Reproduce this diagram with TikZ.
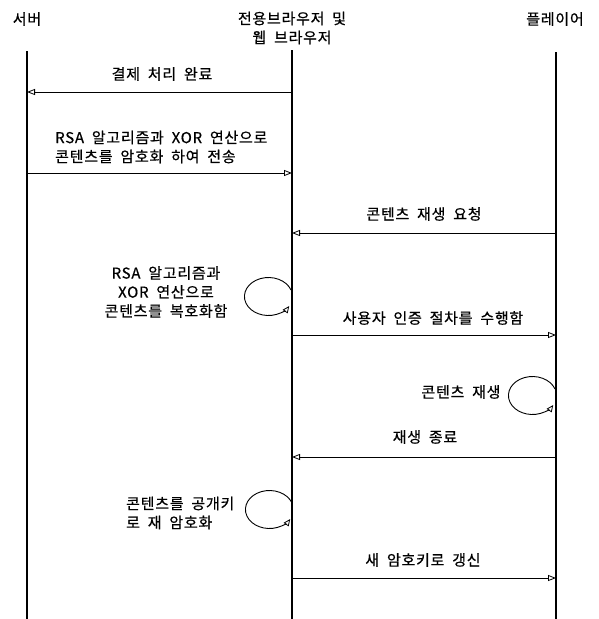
\documentclass[tikz,border=0pt]{standalone}
\usepackage{fontspec}
\setmainfont[LetterSpace=5, WordSpace=1.9, FakeBold=0.6]{Noto Sans CJK KR}
\usetikzlibrary{arrows.meta}
\begin{document}
\begin{tikzpicture}[x=1pt,y=-1pt,
  lbl/.style={font=\fontsize{15}{19}\selectfont, inner sep=1pt},
  life/.style={line width=1.1pt},
  msg/.style={line width=0.9pt, -{Triangle[open,length=8pt,width=6pt,line width=0.8pt]}},
  selfloop/.style={line width=0.9pt, -{Triangle[open,length=7pt,width=6pt,line width=0.8pt]}}]
\useasboundingbox (0,0) rectangle (598,619);
% headers
\node[lbl] (hs) at (27,19) {서버};
\node[lbl, align=center] (hb) at (292,28) {전용브라우저 및\\웹 브라우저};
\node[lbl] (hp) at (555,19) {플레이어};
% lifelines
\coordinate (s0) at (27,51); \coordinate (s1) at (27,619);
\coordinate (b0) at (292,50); \coordinate (b1) at (292,619);
\coordinate (p0) at (556,52); \coordinate (p1) at (556,619);
\draw[life] (s0) -- (s1);
\draw[life] (b0) -- (b1);
\draw[life] (p0) -- (p1);
% message 1
\coordinate (m1b) at (292,92); \coordinate (m1s) at (27,92);
\draw[msg] (m1b) -- (m1s);
\node[lbl] (t1) at (162,74) {결제 처리 완료};
% message 2
\coordinate (m2s) at (27,173); \coordinate (m2b) at (292,173);
\draw[msg] (m2s) -- (m2b);
\node[lbl, align=left, anchor=west] (t2) at (54,147) {RSA 알고리즘과 XOR 연산으로\\콘텐츠를 암호화 하여 전송};
% message 3
\coordinate (m3p) at (556,233); \coordinate (m3b) at (292,233);
\draw[msg] (m3p) -- (m3b);
\node[lbl] (t3) at (424,214) {콘텐츠 재생 요청};
% loop 1
\coordinate (l1) at (291,290);
\draw[selfloop] (l1) arc[start angle=-20, end angle=-330, x radius=24, y radius=19];
\node[lbl, align=center] (t4) at (166,292) {RSA 알고리즘과\\XOR 연산으로\\콘텐츠를 복호화함};
% message 4
\coordinate (m4b) at (292,335); \coordinate (m4p) at (556,335);
\draw[msg] (m4b) -- (m4p);
\node[lbl] (t5) at (433,318) {사용자 인증 절차를 수행함};
% loop 2
\coordinate (l2) at (555,389);
\draw[selfloop] (l2) arc[start angle=-20, end angle=-330, x radius=24, y radius=19];
\node[lbl] (t6) at (461,392) {콘텐츠 재생};
% message 5
\coordinate (m5p) at (556,457); \coordinate (m5b) at (292,457);
\draw[msg] (m5p) -- (m5b);
\node[lbl] (t7) at (425,437) {재생 종료};
% loop 3
\coordinate (l3) at (292,503);
\draw[selfloop] (l3) arc[start angle=-20, end angle=-330, x radius=24, y radius=19];
\node[lbl, align=left, anchor=west] (t8) at (125,513) {콘텐츠를 공개키\\로 재 암호화};
% message 6
\coordinate (m6b) at (292,578); \coordinate (m6p) at (556,578);
\draw[msg] (m6b) -- (m6p);
\node[lbl] (t9) at (423,560) {새 암호키로 갱신};
\end{tikzpicture}
\end{document}
